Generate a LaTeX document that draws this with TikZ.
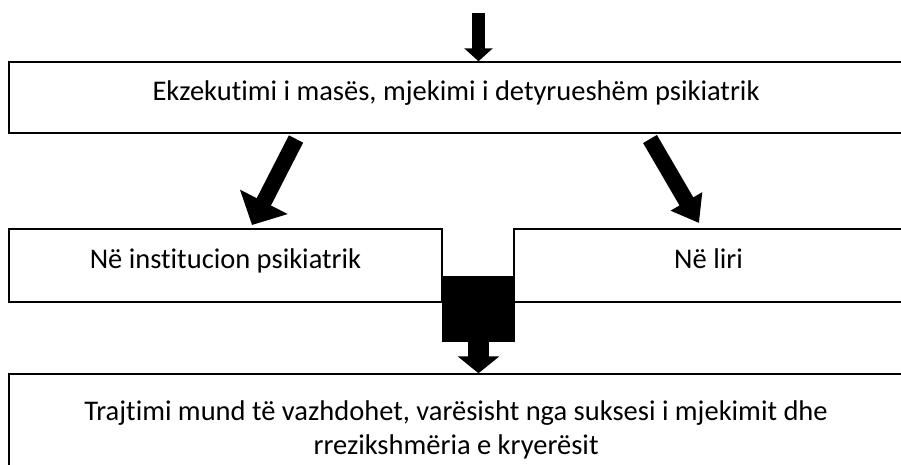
\documentclass[tikz,border=0pt]{standalone}
\usepackage{fontspec}
\setmainfont{Carlito}[Ligatures=NoCommon]
\usetikzlibrary{arrows.meta,positioning}

\tikzset{
  box/.style={draw, line width=1.5pt, inner sep=0pt, align=center,
    font=\fontsize{28.5}{34}\selectfont},
  oneline/.style={text height=18.4pt, text depth=13.4pt},
  blockarrow/.style={line width=#1, line cap=butt},
}

\begin{document}
\begin{tikzpicture}[x=1pt,y=-1pt]
    % frame
    \clip (0,0) rectangle (901,464);

    % draw boxes
    \node[box, oneline, minimum width=894pt, minimum height=71pt] (mass) at (456,97.5)
      {Ekzekutimi i masës, mjekimi i detyrueshëm psikiatrik};
    \node[box, oneline, minimum width=433pt, minimum height=73pt] (inst) at (225.5,265.5)
      {Në institucion psikiatrik};
    \node[box, oneline, minimum width=389pt, minimum height=73pt] (free) at (708.5,265.5)
      {Në liri};
    \node[box, minimum width=894pt, minimum height=112pt] (cont) at (456,430)
      {Trajtimi mund të vazhdohet, varësisht nga suksesi i mjekimit dhe\\
       rrezikshmëria e kryerësit};

    % draw black block
    \node[fill=black, minimum width=73pt, minimum height=66pt, inner sep=0pt]
      (merge) at (478.5,309) {};

    % draw arrows
    \coordinate (top) at (478.5,13);
    \coordinate (l0) at (296,139);
    \coordinate (l1) at (252,225);
    \coordinate (r0) at (650,139);
    \coordinate (r1) at (699,223);

    \draw[blockarrow=13pt, -{Triangle[width=28pt,length=13pt]}] (top) -- (mass.north -| top);
    \draw[blockarrow=16pt, -{Triangle[width=52pt,length=26pt]}] (l0) -- (l1);
    \draw[blockarrow=16pt, -{Triangle[width=35pt,length=25pt]}] (r0) -- (r1);
    \draw[blockarrow=21pt, -{Triangle[width=41pt,length=17pt]}] (merge.south) -- (merge.south |- cont.north);

  \end{tikzpicture}
\end{document}
